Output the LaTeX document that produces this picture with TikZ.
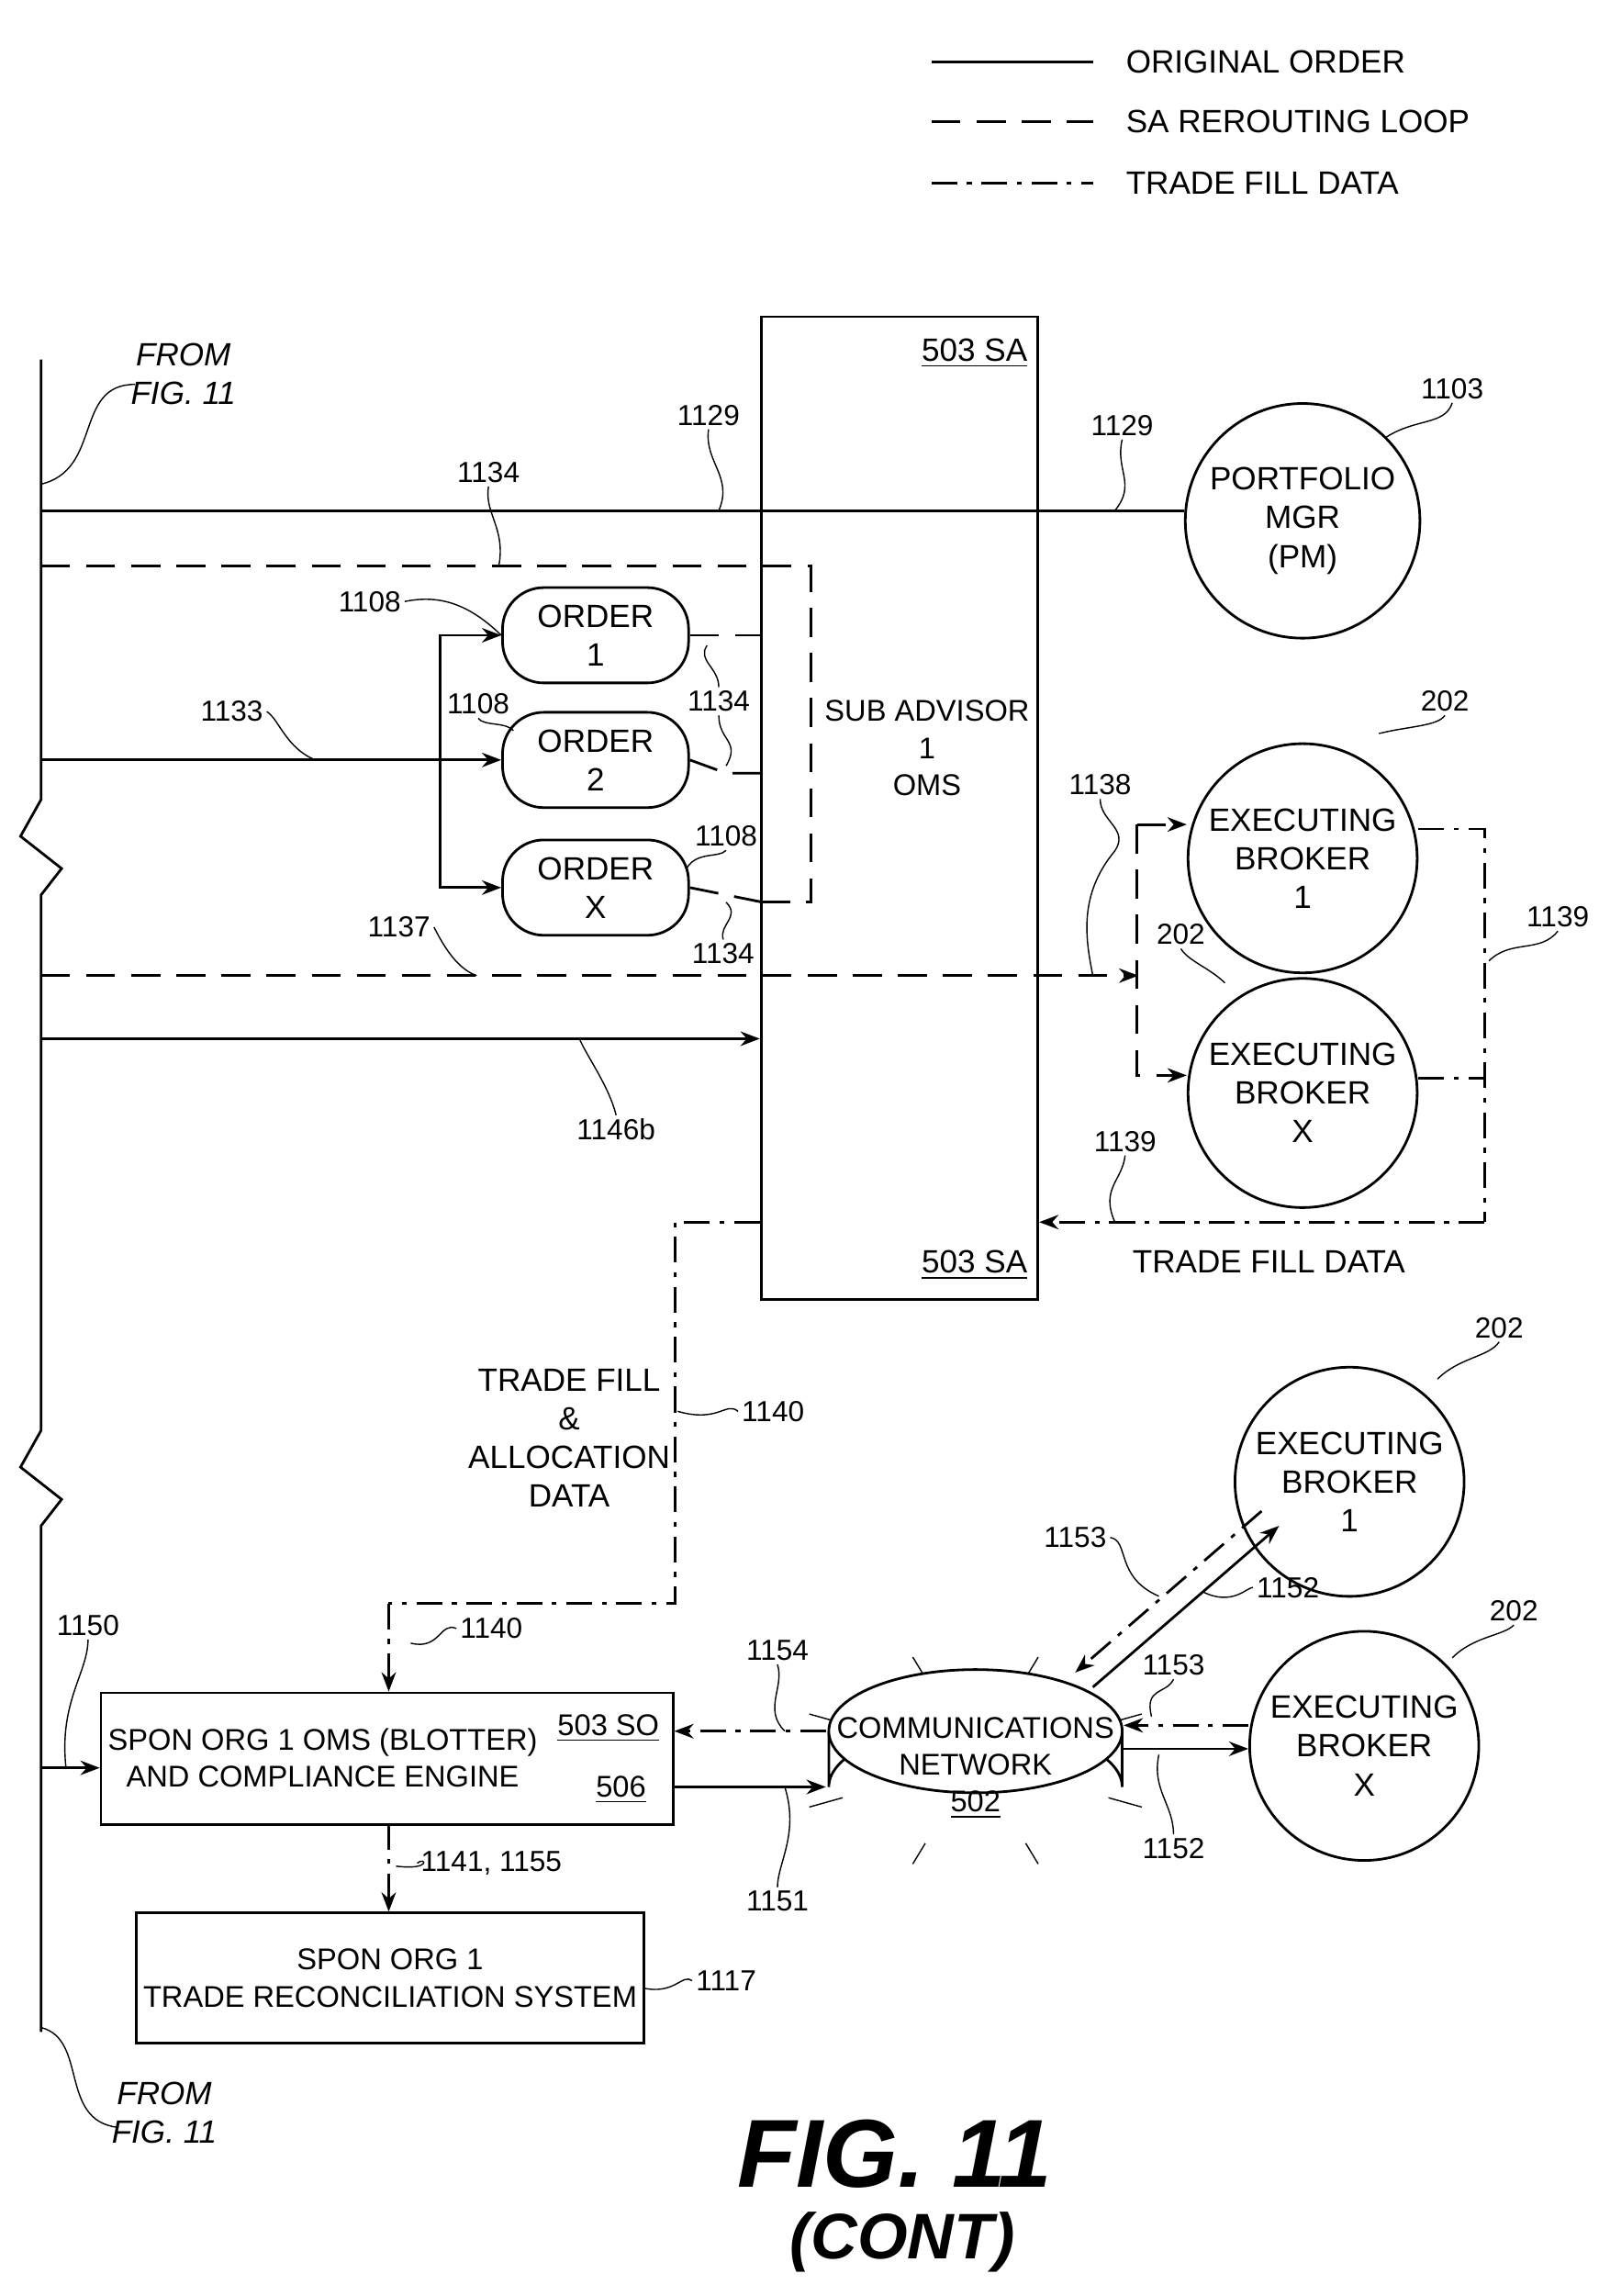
\documentclass[tikz,border=0pt]{standalone}
\usepackage{fontspec}
\setmainfont{Liberation Sans}
\usetikzlibrary{arrows.meta,positioning,shapes.geometric}
\tikzset{
  lbl/.style={font=\fontsize{9}{10}\selectfont, inner sep=1pt},
  txt/.style={font=\fontsize{10}{12}\selectfont, align=center, inner sep=1pt},
  small txt/.style={txt, font=\fontsize{9.3}{11.5}\selectfont},
  ball/.style={circle, draw, thick, minimum size=2.5cm, inner sep=0pt, txt},
  order/.style={draw, thick, rounded corners=0.45cm, minimum width=2.03cm, minimum height=1.04cm, inner sep=0pt, txt},
  orig/.style={thick},
  loop/.style={thick, dash pattern=on 9pt off 5pt},
  fill data/.style={thick, dash pattern=on 8pt off 3pt on 1.5pt off 3pt},
  lead/.style={thin},
  arr/.style={-{Stealth[length=6pt]}}
}
\begin{document}
\begin{tikzpicture}[x=0.016cm, y=-0.016cm]
\useasboundingbox (0,0) rectangle (1090,1565);

% legend
\draw[orig] (635,42) -- (745,42);
\draw[loop] (635,83) -- (745,83);
\draw[fill data] (635,125) -- (745,125);
\node[txt, anchor=west] at (765,42) {ORIGINAL ORDER};
\node[txt, anchor=west] at (765,83) {SA REROUTING LOOP};
\node[txt, anchor=west] at (765,125) {TRADE FILL DATA};

% left bus
\draw[orig] (28,245) -- (28,545) -- (14,570) -- (42,592) -- (28,610) -- (28,975) -- (14,1000) -- (42,1022) -- (28,1040) -- (28,1385);
\node[txt, font=\fontsize{10}{12}\selectfont\itshape] (from1) at (125,255) {FROM\\FIG. 11};
\draw[lead] (28,330) .. controls (70,320) and (50,262) .. (92,262);
\node[txt, font=\fontsize{10}{12}\selectfont\itshape] (from2) at (112,1440) {FROM\\FIG. 11};
\draw[lead] (28,1382) .. controls (60,1390) and (40,1445) .. (80,1450);

% sub advisor box
\node[draw, thick, minimum width=3.02cm, minimum height=10.72cm, anchor=north west] (sa) at (518,215) {};
\node[small txt] at (632,510) {SUB ADVISOR\\1\\OMS};
\node[txt, anchor=north east] at (703,228) {\underline{503 SA}};
\node[txt, anchor=south east] at (703,875) {\underline{503 SA}};

% portfolio manager
\node[ball, minimum size=2.56cm] (pm) at (888,355) {PORTFOLIO\\MGR\\(PM)};
\draw[orig] (28,348) -- (pm.west |- 0,348);
\node[lbl] (l1103) at (990,265) {1103};
\draw[lead] (l1103.south) .. controls (985,290) and (965,285) .. (945,298);
\node[lbl] (l1129a) at (483,283) {1129};
\draw[lead] (l1129a.south) .. controls (480,315) and (500,325) .. (490,348);
\node[lbl] (l1129b) at (765,290) {1129};
\draw[lead] (l1129b.south) .. controls (760,320) and (775,330) .. (760,348);

% orders
\node[order] (o1) at (406,433) {ORDER\\1};
\node[order] (o2) at (406,518) {ORDER\\2};
\node[order] (ox) at (406,605) {ORDER\\X};
\draw[orig, arr] (28,518) -- (o2.west);
\draw[orig, arr] (300,518) |- (o1.west);
\draw[orig, arr] (300,518) |- (ox.west);
\node[lbl] (l1133) at (158,485) {1133};
\draw[lead] (l1133.east) .. controls (190,490) and (195,510) .. (215,518);
\node[lbl] (l1108a) at (252,410) {1108};
\draw[lead] (l1108a.east) .. controls (300,405) and (320,412) .. (o1.west);
\node[lbl] (l1108b) at (326,480) {1108};
\draw[lead] (l1108b.south) .. controls (330,495) and (345,492) .. (350,498);
\node[lbl] (l1108c) at (495,570) {1108};
\draw[lead] (l1108c.south) .. controls (490,585) and (475,580) .. (468,592);

% rerouting loop
\draw[loop] (28,386) -- (553,386) -- (553,615) -- (520,615);
\draw[loop] (o1.east) -- (495,433) -- (520,433);
\draw[loop] (o2.east) -- (495,527) -- (520,527);
\draw[loop] (ox.east) -- (520,615);
\node[lbl] (l1134a) at (333,322) {1134};
\draw[lead] (l1134a.south) .. controls (330,350) and (345,360) .. (340,386);
\node[lbl] (l1134b) at (490,478) {1134};
\draw[lead] (l1134b.north) .. controls (490,455) and (475,450) .. (482,440);
\draw[lead] (l1134b.south) .. controls (490,505) and (505,505) .. (495,522);
\node[lbl] (l1134c) at (493,650) {1134};
\draw[lead] (l1134c.north) .. controls (490,630) and (505,625) .. (495,615);
\draw[loop, arr] (28,665) -- (776,665);
\node[lbl] (l1137) at (272,632) {1137};
\draw[lead] (l1137.east) .. controls (300,640) and (310,660) .. (325,665);
\draw[orig, arr] (28,708) -- (sa.west |- 0,708);
\node[lbl] (l1146) at (420,770) {1146b};
\draw[lead] (l1146.north) .. controls (415,740) and (400,720) .. (395,708);

% executing brokers
\node[ball] (eb1) at (888,585) {EXECUTING\\BROKER\\1};
\node[ball] (ebx) at (888,745) {EXECUTING\\BROKER\\X};
\draw[loop, arr] (775,562) -- (eb1.west |- 0,562);
\draw[loop, arr] (775,562) |- (ebx.west |- 0,733);
\node[lbl] (l1138) at (750,535) {1138};
\draw[lead] (l1138.south) .. controls (750,560) and (770,565) .. (760,580) .. controls (735,610) and (740,640) .. (745,665);
\node[lbl] (l202a) at (985,478) {202};
\draw[lead] (l202a.south) .. controls (980,495) and (960,495) .. (940,500);
\node[lbl] (l202b) at (805,637) {202};
\draw[lead] (l202b.south) .. controls (810,655) and (825,660) .. (835,670);

% trade fill data
\draw[fill data] (eb1.east |- 0,565) -- (1012,565) -- (1012,833);
\draw[fill data] (ebx.east |- 0,735) -- (1012,735);
\draw[fill data, arr] (1012,833) -- (sa.east |- 0,833);
\node[txt] at (865,860) {TRADE FILL DATA};
\node[lbl] (l1139a) at (1062,625) {1139};
\draw[lead] (l1139a.south) .. controls (1050,650) and (1030,640) .. (1015,655);
\node[lbl] (l1139b) at (767,778) {1139};
\draw[lead] (l1139b.south) .. controls (765,805) and (750,810) .. (760,833);

% spon org
\node[draw, thick, minimum width=6.24cm, minimum height=1.44cm, anchor=north west] (spon) at (68,1153) {};
\node[small txt] at (220,1198) {SPON ORG 1 OMS (BLOTTER)\\AND COMPLIANCE ENGINE};
\node[small txt, anchor=east] at (452,1178) {\underline{503 SO}};
\node[small txt, anchor=east] at (443,1220) {\underline{506}};
\node[draw, thick, minimum width=5.54cm, minimum height=1.42cm, inner sep=0pt, anchor=north west, small txt] (recon) at (92,1303) {SPON ORG 1\\TRADE RECONCILIATION SYSTEM};
\node[lbl] (l1117) at (495,1350) {1117};
\draw[lead] (l1117.west) .. controls (465,1345) and (460,1360) .. (438,1355);
\draw[orig, arr] (28,1205) -- (spon.west |- 0,1205);
\node[lbl] (l1150) at (60,1108) {1150};
\draw[lead] (l1150.south) .. controls (60,1140) and (40,1160) .. (45,1205);
\draw[fill data, arr] (265,1243) -- (recon.north -| 265,0);
\node[lbl] (l1141) at (335,1270) {1141, 1155};
\draw[lead] (l1141.west) .. controls (290,1265) and (295,1275) .. (270,1272);

% 1140
\draw[fill data] (sa.west |- 0,833) -- (460,833) -- (460,1093) -- (265,1093);
\draw[fill data, arr] (265,1093) -- (spon.north -| 265,0);
\node[txt, fill=white] at (388,980) {TRADE FILL\\\&\\ALLOCATION\\DATA};
\node[lbl] (l1140a) at (527,962) {1140};
\draw[lead] (l1140a.west) .. controls (495,955) and (490,970) .. (462,962);
\node[lbl] (l1140b) at (335,1110) {1140};
\draw[lead] (l1140b.west) .. controls (300,1105) and (300,1125) .. (280,1120);

% communications network
\coordinate (net) at (665,1200);
\foreach \a in {25,70,110,155,205,250,290,335} {
  \draw ({665+100*cos(\a)},{1200-60*sin(\a)}) -- ({665+125*cos(\a)},{1200-75*sin(\a)});
}
\draw[thick, fill=white] (565,1180) -- (565,1218) arc[start angle=180, end angle=360, x radius=100, y radius=42] -- (765,1180);
\draw[thick, fill=white] (665,1180) ellipse[x radius=100, y radius=42];
\node[txt, font=\fontsize{9.3}{11.5}\selectfont] at (665,1205) {COMMUNICATIONS\\NETWORK\\\underline{502}};
\node[ball] (eb1b) at (920,1010) {EXECUTING\\BROKER\\1};
\node[ball] (ebxb) at (930,1190) {EXECUTING\\BROKER\\X};
\draw[fill data, arr] (860,1030) -- (733,1140);
\draw[orig, arr] (745,1150) -- (872,1040);
\draw[fill data, arr] (ebxb.west |- 0,1176) -- (766,1176);
\draw[orig, arr] (766,1192) -- (ebxb.west |- 0,1192);
\draw[fill data, arr] (563,1180) -- (spon.east |- 0,1180);
\draw[orig, arr] (spon.east |- 0,1218) -- (563,1218);
\node[lbl] (l202c) at (1022,905) {202};
\draw[lead] (l202c.south) .. controls (1015,925) and (995,925) .. (980,940);
\node[lbl] (l202d) at (1032,1098) {202};
\draw[lead] (l202d.south) .. controls (1025,1115) and (1005,1115) .. (990,1130);
\node[lbl] (l1153a) at (733,1048) {1153};
\draw[lead] (l1153a.east) .. controls (770,1050) and (760,1075) .. (790,1088);
\node[lbl] (l1152a) at (878,1082) {1152};
\draw[lead] (l1152a.west) .. controls (850,1082) and (840,1095) .. (820,1085);
\node[lbl] (l1153b) at (800,1135) {1153};
\draw[lead] (l1153b.south) .. controls (795,1155) and (780,1150) .. (785,1170);
\node[lbl] (l1152b) at (800,1260) {1152};
\draw[lead] (l1152b.north) .. controls (800,1230) and (785,1220) .. (790,1196);
\node[lbl] (l1154) at (530,1125) {1154};
\draw[lead] (l1154.south) .. controls (535,1150) and (520,1165) .. (535,1180);
\node[lbl] (l1151) at (530,1296) {1151};
\draw[lead] (l1151.north) .. controls (530,1270) and (545,1250) .. (535,1218);

% caption
\node[font=\fontsize{30}{32}\selectfont\bfseries\itshape] at (610,1468) {FIG. 11};
\node[font=\fontsize{20}{22}\selectfont\bfseries\itshape] at (615,1528) {(CONT)};
\end{tikzpicture}
\end{document}
